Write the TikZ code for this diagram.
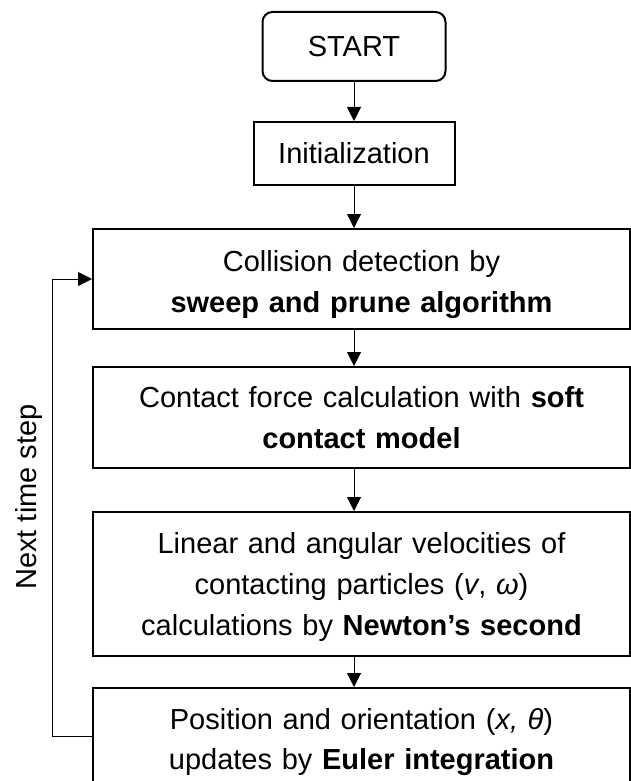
\documentclass[tikz,border=0pt]{standalone}
\usepackage{fontspec}
\setmainfont{Liberation Sans}
\usetikzlibrary{arrows.meta,calc}
\begin{document}
\begin{tikzpicture}[x=1pt,y=-1pt,
  every node/.style={font=\fontsize{29pt}{41pt}\selectfont, text=black},
  flowbox/.style={draw=black, line width=2pt, align=center, inner sep=0pt},
  widebox/.style={flowbox, minimum width=537pt, text width=510pt},
  conn/.style={line width=1pt, -{Triangle[length=14pt,width=14pt]}},
  back/.style={line width=1pt, -{Triangle[length=14pt,width=14pt]}}]
\path[use as bounding box] (0,0) rectangle (631,781);
\clip (0,0) rectangle (631,781);
\node[flowbox, rounded corners=10pt, minimum width=183pt, minimum height=69pt] (start) at (354,46.5) {START};
\node[flowbox, minimum width=201pt, minimum height=63pt] (init) at (354,153.5) {Initialization};
\node[widebox, minimum height=100pt] (coll) at (361.5,279)
  {\rule{0pt}{33pt}Collision detection by\\\textbf{sweep and prune algorithm}};
\node[widebox, minimum height=101pt] (cont) at (361.5,417.5)
  {Contact force calculation with \textbf{soft}\\\textbf{contact model}};
\node[widebox, minimum height=144pt] (lin) at (361.5,584)
  {\rule{0pt}{28pt}Linear and angular velocities of\\contacting particles (\textit{v}, \textit{ω})\\calculations by \textbf{Newton’s second}};
\node[widebox, anchor=north, inner ysep=20pt] (pos) at (361.5,687)
  {Position and orientation (\textit{x, θ})\\[-1pt]updates by \textbf{Euler integration}};
\node[rotate=90] (lbl) at (29,497) {Next time step};
\coordinate (fb) at (52,0);
\coordinate (fbstart) at ($(pos.north west)+(0,49)$);
\draw[conn] (start.south) -- (start.south |- init.north);
\draw[conn] (init.south) -- (init.south |- coll.north);
\draw[conn] (coll.south -| init.south) -- (cont.north -| init.south);
\draw[conn] (cont.south -| init.south) -- (lin.north -| init.south);
\draw[conn] (lin.south -| init.south) -- (pos.north -| init.south);
\draw[back] (fbstart) -- (fbstart -| fb) -- (fb |- coll.west) -- (coll.west);
\end{tikzpicture}
\end{document}
